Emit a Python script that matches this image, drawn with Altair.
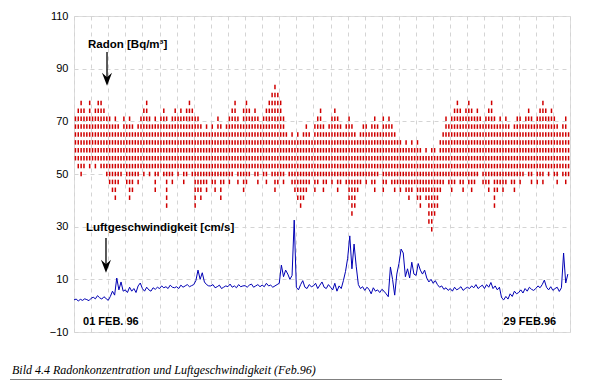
import altair as alt
import pandas as pd

# ---------------- data ----------------
# wind speed [cm/s], 8 samples per day, 01 Feb .. 29 Feb
wind = [
    2.2, 2.5, 1.8, 2.4, 2.0, 2.6, 2.3, 1.9,
    2.8, 3.2, 2.6, 3.8, 3.0, 2.5, 3.4, 2.7,
    2.0, 3.5, 5.5, 4.0, 10.5, 6.0, 9.0, 5.5,
    6.0, 5.0, 7.0, 5.5, 6.5, 5.0, 7.5, 8.6,
    6.5, 5.5, 7.0, 6.0, 5.5, 6.8, 6.2, 7.0,
    6.5, 7.5, 6.8, 7.2, 6.5, 7.8, 7.0, 6.8,
    7.2, 6.5, 7.8, 7.0, 7.5, 8.0, 7.2, 7.6,
    8.0, 9.5, 13.5, 10.0, 12.5, 9.0, 8.0, 7.5,
    7.5, 8.0, 6.8, 7.2, 7.8, 6.5, 7.0, 7.5,
    7.2, 8.2, 7.0, 7.5, 6.8, 8.0, 7.2, 7.5,
    7.6, 7.0, 7.8, 8.2, 7.0, 7.5, 8.0, 7.2,
    7.8, 7.2, 8.5, 7.5, 7.8, 7.0, 7.5, 8.0,
    8.5, 15.4, 11.0, 13.5, 12.0, 10.0, 11.5, 32.5,
    7.0, 6.0, 8.0, 9.5, 7.0, 6.5, 8.0, 7.2,
    7.5, 8.5, 6.5, 7.8, 9.0, 7.0, 6.5, 8.0,
    7.0, 6.0, 8.5, 5.5, 7.5, 6.5, 9.5, 13.0,
    18.0, 26.5, 14.0, 23.4, 15.0, 8.0, 6.5, 7.2,
    5.8, 7.0, 6.2, 4.5, 6.8, 5.5, 6.0, 5.0,
    6.2, 5.5, 4.5, 3.4, 14.7, 10.0, 4.0, 12.0,
    16.0, 21.5, 20.0, 11.0, 14.0, 10.5, 16.5, 12.0,
    11.5, 16.0, 13.5, 12.0, 13.5, 10.5, 9.0, 10.0,
    8.5, 9.5, 8.0, 7.0, 7.5, 6.2, 6.8, 5.8,
    6.5, 5.5, 7.0, 6.0, 6.5, 7.2, 5.8, 6.5,
    7.0, 6.5, 7.5, 6.8, 8.0, 6.5, 7.2, 7.8,
    6.5, 8.0, 7.0, 8.8, 6.5, 7.5, 6.0, 7.0,
    3.0, 2.2, 3.5, 2.5, 4.5, 3.5, 5.5, 4.5,
    5.0, 6.0, 4.8, 6.5, 5.5, 7.0, 6.2, 5.8,
    6.5, 7.5, 6.8, 8.0, 9.7, 7.0, 6.0, 7.2,
    5.8, 6.5, 7.0, 5.4, 6.8, 20.0, 8.6, 12.0,
]

# radon [Bq/m3]: highest and lowest reading in each 4-hour block (6 per day)
rn_hi = [
    71, 74, 77, 74, 71, 77,
    71, 74, 77, 77, 74, 71,
    71, 68, 71, 68, 65, 71,
    68, 71, 68, 65, 68, 71,
    74, 77, 71, 68, 71, 68,
    71, 74, 71, 68, 71, 74,
    71, 74, 71, 74, 77, 74,
    71, 71, 68, 65, 68, 65,
    68, 65, 71, 68, 65, 68,
    71, 74, 77, 71, 68, 74,
    77, 74, 71, 74, 71, 68,
    71, 74, 77, 80, 83, 80,
    77, 71, 65, 62, 65, 62,
    65, 62, 65, 68, 65, 62,
    68, 71, 74, 68, 65, 68,
    71, 74, 71, 68, 65, 68,
    71, 68, 65, 62, 65, 68,
    68, 65, 68, 71, 68, 65,
    71, 68, 71, 68, 65, 62,
    62, 59, 62, 59, 62, 59,
    62, 59, 56, 59, 56, 59,
    59, 56, 62, 65, 71, 68,
    71, 74, 77, 74, 71, 74,
    77, 74, 71, 74, 71, 68,
    71, 74, 77, 71, 68, 71,
    68, 71, 68, 65, 68, 71,
    71, 68, 71, 74, 71, 68,
    71, 74, 77, 74, 71, 74,
    71, 68, 65, 68, 71, 65,
]
rn_lo = [
    56, 53, 50, 53, 56, 53,
    56, 53, 56, 53, 53, 50,
    47, 44, 41, 47, 50, 53,
    47, 41, 44, 50, 47, 53,
    50, 53, 50, 53, 44, 50,
    53, 50, 38, 50, 47, 53,
    50, 53, 47, 50, 53, 50,
    38, 44, 41, 47, 44, 50,
    47, 44, 50, 41, 47, 50,
    47, 50, 53, 47, 50, 44,
    47, 50, 53, 50, 47, 53,
    50, 47, 53, 50, 44, 47,
    50, 47, 53, 50, 47, 44,
    41, 38, 41, 44, 47, 50,
    44, 47, 50, 44, 47, 50,
    47, 50, 44, 47, 50, 47,
    41, 35, 38, 44, 47, 50,
    47, 50, 47, 44, 50, 53,
    44, 47, 50, 47, 44, 47,
    44, 47, 44, 41, 44, 47,
    41, 38, 44, 41, 32, 29,
    35, 38, 44, 47, 50, 47,
    44, 47, 50, 47, 44, 50,
    47, 44, 47, 50, 53, 47,
    47, 44, 50, 38, 44, 47,
    44, 47, 50, 47, 44, 50,
    47, 50, 53, 50, 47, 53,
    47, 50, 47, 53, 50, 53,
    50, 47, 53, 50, 47, 50,
]
RN_STEP = 3  # resolution of the radon readings

y_ticks = [-10, 10, 30, 50, 70, 90, 110]
day_lines = list(range(1, 31))

labels_big = ["Radon [Bq/m³]", "Luftgeschwindigkeit [cm/s]"]
labels_big_day = [1.82, 1.70]
labels_big_val = [97.7, 28.5]

labels_date = ["01 FEB. 96", "29 FEB.96"]
labels_date_day = [1.53, 29.19]
labels_date_val = [-7.3, -7.3]

arrow_day = [2.93, 2.87]
arrow_top = [96.3, 25.7]
arrow_tip = [86.0, 15.0]

caption = "Bild 4.4  Radonkonzentration und Luftgeschwindigkeit (Feb.96)"

# ---------------- tables ----------------
wind_df = pd.DataFrame({"day": [1 + i / 8 for i in range(len(wind))], "v": wind})
rows = []
for i, (lo, hi) in enumerate(zip(rn_lo, rn_hi)):
    d = 1 + (i + 0.5) / 6
    lev = lo
    while lev <= hi:
        rows.append({"day": d, "v": lev})
        lev += RN_STEP
rn_df = pd.DataFrame(rows)

big_df = pd.DataFrame({"t": labels_big, "day": labels_big_day, "v": labels_big_val})
date_df = pd.DataFrame({"t": labels_date, "day": labels_date_day, "v": labels_date_val})
arrow_df = pd.DataFrame({"day": arrow_day, "v": arrow_top, "v2": arrow_tip})

xs = alt.Scale(domain=[1, 30], nice=False, zero=False)
ys = alt.Scale(domain=[-10, 110], nice=False, zero=False)

x_axis = alt.Axis(values=day_lines, labels=False, ticks=False, domain=False, grid=True,
                  gridDash=[4, 4], gridColor="#d4d4d4", gridWidth=1, title=None)
y_axis = alt.Axis(values=y_ticks, ticks=False, domain=False, grid=True, gridDash=[4, 4],
                  gridColor="#d4d4d4", gridWidth=1, labelPadding=6,
                  labelFont="Liberation Sans", labelFontSize=11, labelColor="black", title=None)

X = alt.X("day:Q", scale=xs, axis=x_axis)
Y = alt.Y("v:Q", scale=ys, axis=y_axis)

radon = alt.Chart(rn_df).mark_tick(orient="vertical", size=4.5, thickness=1.5,
                                   color="#d00000", opacity=1).encode(x=X, y=Y)

windline = alt.Chart(wind_df).mark_line(color="#0000b4", strokeWidth=1).encode(x=X, y=Y)

big_text = alt.Chart(big_df).mark_text(font="Liberation Sans", fontSize=11.5, fontWeight="bold",
                                       align="left", baseline="alphabetic", color="black").encode(
    x=X, y=Y, text="t:N")

date_left = alt.Chart(date_df.iloc[[0]]).mark_text(
    font="Liberation Sans", fontSize=11, fontWeight="bold", align="left",
    baseline="alphabetic", color="black").encode(x=X, y=Y, text="t:N")
date_right = alt.Chart(date_df.iloc[[1]]).mark_text(
    font="Liberation Sans", fontSize=11, fontWeight="bold", align="right",
    baseline="alphabetic", color="black").encode(x=X, y=Y, text="t:N")

shaft = alt.Chart(arrow_df).mark_rule(color="black", strokeWidth=1.3).encode(
    x=X, y=Y, y2="v2:Q")
head = alt.Chart(arrow_df).mark_point(shape="M-1,-1.3L0,1.3L1,-1.3L0,-0.4Z", filled=True,
                                      color="black", size=100, opacity=1).encode(
    x=X, y=alt.Y("v2:Q", scale=ys, axis=y_axis))

cap_df = pd.DataFrame({"t": [caption]})
cap = alt.Chart(cap_df).mark_text(font="Liberation Serif", fontSize=12, fontStyle="italic",
                                  align="left", baseline="alphabetic", color="black").encode(
    x=alt.value(-62), y=alt.value(357.5), text="t:N")
underline = alt.Chart(cap_df).mark_rule(color="black", strokeWidth=1).encode(
    x=alt.value(-64), x2=alt.value(428), y=alt.value(364))

chart = alt.layer(radon, windline, shaft, head, big_text, date_left, date_right,
                  cap, underline).properties(
    width=496, height=316,
    autosize=alt.AutoSizeParams(type="none"),
    padding={"left": 66, "top": 8, "right": 15, "bottom": 48},
).configure_view(stroke="black", strokeWidth=1.5).configure(background="white")

chart.save("out.html", embed_options={"renderer": "svg", "actions": False})
